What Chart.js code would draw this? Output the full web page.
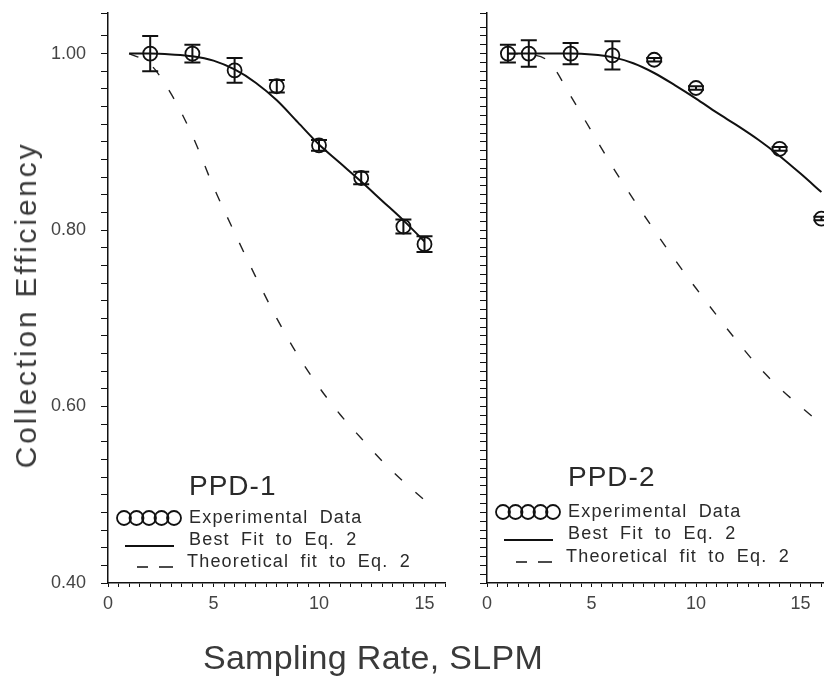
<!DOCTYPE html>
<html>
<head>
<meta charset="utf-8">
<title>Collection efficiency vs sampling rate</title>
<script src="https://cdn.jsdelivr.net/npm/chart.js@4.4.1/dist/chart.umd.min.js"></script>
<style>
  html, body { margin: 0; padding: 0; background: #fff; }
  body { width: 824px; height: 682px; position: relative; overflow: hidden; font-family: "Liberation Sans", Arial, sans-serif; }
  canvas { position: absolute; top: 0; }
  #left { left: 0; }
  #right { left: 470px; }
  .axis-title { position: absolute; white-space: nowrap; color: #3a3a3a; line-height: 1; }
  #yTitle { left: 26px; top: 305px; font-size: 30px; letter-spacing: 2.8px; transform: translate(-50%, -50%) rotate(-90deg); }
  #xTitle { left: 373px; top: 657px; font-size: 34px; letter-spacing: 0.3px; transform: translate(-50%, -50%); }
</style>
</head>
<body>
<canvas id="left" width="470" height="640"></canvas>
<canvas id="right" width="380" height="640"></canvas>
<div class="axis-title" id="yTitle">Collection Efficiency</div>
<div class="axis-title" id="xTitle">Sampling Rate, SLPM</div>
<script>
// PPD-1: measured efficiency with error half-widths
const ppd1Rate = [2, 4, 6, 8, 10, 12, 14, 15];
const ppd1Eff = [1.000, 1.000, 0.981, 0.963, 0.896, 0.859, 0.804, 0.784];
const ppd1Err = [0.020, 0.010, 0.014, 0.007, 0.006, 0.007, 0.008, 0.009];

// PPD-1: Eq. 2 curves
const ppd1CurveRate = [1, 2, 3, 4, 5, 6, 7, 8, 9, 10, 11, 12, 13, 14, 15];
const ppd1BestFit = [1.000, 1.000, 0.999, 0.997, 0.992, 0.982, 0.967, 0.947, 0.922, 0.897, 0.876, 0.855, 0.833, 0.811, 0.787];
const ppd1Theory = [1.000, 0.988, 0.954, 0.907, 0.849, 0.797, 0.747, 0.700, 0.658, 0.622, 0.591, 0.564, 0.538, 0.515, 0.494];

// PPD-2: measured efficiency with error half-widths
const ppd2Rate = [1, 2, 4, 6, 8, 10, 14, 16];
const ppd2Eff = [1.000, 1.000, 1.000, 0.998, 0.993, 0.961, 0.892, 0.813];
const ppd2Err = [0.010, 0.015, 0.012, 0.016, 0.002, 0.002, 0.002, 0.002];

// PPD-2: Eq. 2 curves
const ppd2CurveRate = [1, 2, 3, 4, 5, 6, 7, 8, 9, 10, 11, 12, 13, 14, 15, 16];
const ppd2BestFit = [1.000, 1.000, 1.000, 1.000, 0.999, 0.996, 0.989, 0.978, 0.964, 0.949, 0.933, 0.918, 0.902, 0.884, 0.864, 0.843];
const ppd2Theory = [1.000, 0.999, 0.990, 0.952, 0.912, 0.872, 0.835, 0.800, 0.766, 0.734, 0.703, 0.673, 0.645, 0.621, 0.600, 0.580];

// labelled ticks
const xTickLabels = [0, 5, 10, 15];
const yTickLabels = [0.40, 0.60, 0.80, 1.00];

const FONT = '"Liberation Sans", Arial, sans-serif';
Chart.defaults.font.family = FONT;

function pairs(xs, ys) {
  return xs.map((x, i) => ({ x: x, y: ys[i] }));
}

// vertical error bars with caps for the measured points (dataset 0)
function makeErrorBars(errors) {
  return {
    id: 'errorBars',
    afterDatasetsDraw(chart) {
      const ctx = chart.ctx;
      const y = chart.scales.y;
      const ds = chart.data.datasets[0];
      const meta = chart.getDatasetMeta(0);
      ctx.save();
      ctx.strokeStyle = '#111';
      ctx.lineWidth = 2;
      meta.data.forEach((pt, i) => {
        const top = y.getPixelForValue(ds.data[i].y + errors[i]);
        const bot = y.getPixelForValue(ds.data[i].y - errors[i]);
        ctx.beginPath();
        ctx.moveTo(pt.x, top);
        ctx.lineTo(pt.x, bot);
        ctx.moveTo(pt.x - 8, top);
        ctx.lineTo(pt.x + 8, top);
        ctx.moveTo(pt.x - 8, bot);
        ctx.lineTo(pt.x + 8, bot);
        ctx.stroke();
      });
      ctx.restore();
    }
  };
}

// panel name and key in the lower left of the plot
function makePanelKey(name, top, rows) {
  return {
    id: 'panelKey',
    afterDraw(chart) {
      const ctx = chart.ctx;
      const left = chart.chartArea.left;
      const tx = left + 81;
      const labels = chart.data.datasets.map(d => d.label);
      ctx.save();
      ctx.fillStyle = '#2a2a2a';
      ctx.strokeStyle = '#111';
      ctx.textBaseline = 'middle';
      ctx.font = '28px ' + FONT;
      ctx.letterSpacing = '1px';
      ctx.fillText(name, tx, top);

      ctx.font = '18px ' + FONT;
      ctx.letterSpacing = '1.2px';
      ctx.wordSpacing = '5px';

      // measured points: a run of open circles
      const r1 = top + rows[0];
      ctx.lineWidth = 1.8;
      for (let k = 0; k < 5; k++) {
        ctx.beginPath();
        ctx.arc(left + 16 + k * 12.5, r1, 7, 0, Math.PI * 2);
        ctx.stroke();
      }
      ctx.fillText(labels[0], tx, r1);

      // best fit: solid line
      const r2 = top + rows[1];
      ctx.lineWidth = 2;
      ctx.beginPath();
      ctx.moveTo(left + 17, r2 + 6);
      ctx.lineTo(left + 66, r2 + 6);
      ctx.stroke();
      ctx.fillText(labels[1], tx, r2);

      // theoretical: two dashes
      const r3 = top + rows[2];
      ctx.lineWidth = 1.6;
      ctx.beginPath();
      ctx.moveTo(left + 29, r3 + 5);
      ctx.lineTo(left + 40, r3 + 5);
      ctx.moveTo(left + 51, r3 + 5);
      ctx.lineTo(left + 65, r3 + 5);
      ctx.stroke();
      ctx.fillText(labels[2], tx - 2, r3);
      ctx.restore();
    }
  };
}

function buildPanel(canvasId, p) {
  return new Chart(document.getElementById(canvasId), {
    type: 'line',
    data: {
      datasets: [{
        label: 'Experimental Data',
        data: pairs(p.rate, p.eff),
        showLine: false,
        pointRadius: 7,
        pointBorderWidth: 1.8,
        pointBorderColor: '#111',
        pointBackgroundColor: 'rgba(0,0,0,0)'
      }, {
        label: 'Best Fit to Eq. 2',
        data: pairs(p.curveRate, p.fit),
        borderColor: '#111',
        borderWidth: 2,
        pointRadius: 0,
        cubicInterpolationMode: 'monotone'
      }, {
        label: 'Theoretical fit to Eq. 2',
        data: pairs(p.curveRate, p.theory),
        borderColor: '#222',
        borderWidth: 1.4,
        borderDash: [10, 18],
        pointRadius: 0,
        cubicInterpolationMode: 'monotone'
      }]
    },
    options: {
      responsive: false,
      animation: false,
      events: [],
      layout: { padding: { top: 13, right: p.padRight, bottom: 0, left: 0 } },
      plugins: { legend: { display: false }, tooltip: { enabled: false } },
      scales: {
        x: {
          type: 'linear',
          min: 0,
          max: p.xMax,
          bounds: 'data',
          border: { display: true, color: '#111', width: 1.5 },
          grid: { drawOnChartArea: false, drawTicks: true, tickLength: 4, color: '#111', lineWidth: 1 },
          ticks: {
            stepSize: 0.5,
            autoSkip: false,
            maxRotation: 0,
            padding: 6,
            color: '#444',
            font: { size: 18 },
            callback: v => xTickLabels.includes(v) ? String(v) : ''
          },
          afterFit(scale) {
            scale.height = 57;
            scale.paddingLeft = scale.paddingRight = scale.paddingTop = scale.paddingBottom = 0;
          }
        },
        y: {
          min: 0.4,
          max: 1.046,
          bounds: 'data',
          border: { display: true, color: '#111', width: 1.5 },
          grid: { drawOnChartArea: false, drawTicks: true, tickLength: 7, color: '#111', lineWidth: 1 },
          ticks: {
            stepSize: p.yStep,
            autoSkip: false,
            display: p.yLabels,
            padding: 15,
            color: '#444',
            font: { size: 18 },
            callback: v => yTickLabels.some(t => Math.abs(t - v) < 1e-6) ? v.toFixed(2) : ''
          },
          afterFit(scale) {
            scale.width = p.yWidth;
            scale.paddingLeft = scale.paddingRight = scale.paddingTop = scale.paddingBottom = 0;
          }
        }
      }
    },
    plugins: [makeErrorBars(p.err), makePanelKey(p.name, p.keyTop, p.keyRows)]
  });
}

buildPanel('left', {
  name: 'PPD-1',
  rate: ppd1Rate, eff: ppd1Eff, err: ppd1Err,
  curveRate: ppd1CurveRate, fit: ppd1BestFit, theory: ppd1Theory,
  xMax: 16, yStep: 0.02, yLabels: true, yWidth: 108, padRight: 24.4,
  keyTop: 487, keyRows: [31, 53, 75]
});

buildPanel('right', {
  name: 'PPD-2',
  rate: ppd2Rate, eff: ppd2Eff, err: ppd2Err,
  curveRate: ppd2CurveRate, fit: ppd2BestFit, theory: ppd2Theory,
  xMax: 16.5, yStep: 0.01, yLabels: false, yWidth: 17, padRight: 18.15,
  keyTop: 478, keyRows: [34, 56, 79]
});
</script>
</body>
</html>
